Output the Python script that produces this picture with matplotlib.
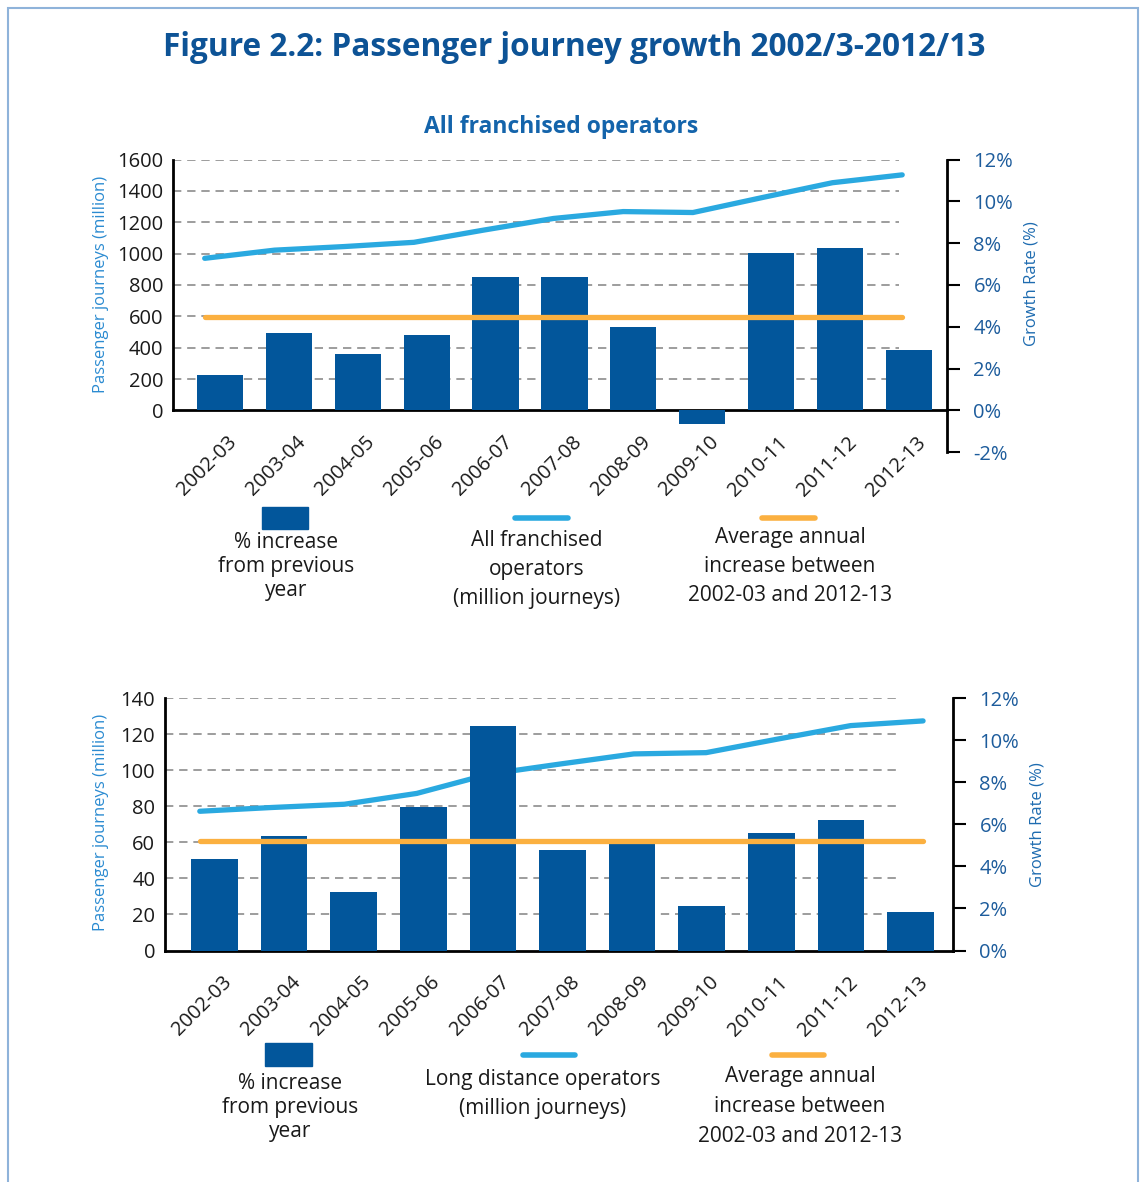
import numpy as np
import matplotlib
matplotlib.use("Agg")
from matplotlib import pyplot as plt
from matplotlib.patches import Rectangle
from matplotlib.lines import Line2D
from matplotlib.transforms import ScaledTranslation

plt.rcParams['font.family'] = ['Open Sans', 'DejaVu Sans']

# ---- data ----
years = ['2002-03', '2003-04', '2004-05', '2005-06', '2006-07', '2007-08',
         '2008-09', '2009-10', '2010-11', '2011-12', '2012-13']

# all franchised operators
franch_growth = [1.7, 3.7, 2.7, 3.6, 6.4, 6.4, 4.0, -0.65, 7.55, 7.75, 2.9]
franch_journeys = [970, 1022, 1045, 1072, 1150, 1224, 1268, 1262, 1358, 1452, 1502]
franch_avg = 4.48

# long distance operators
ld_growth = [4.35, 5.45, 2.8, 6.8, 10.65, 4.8, 5.2, 2.1, 5.6, 6.2, 1.85]
ld_journeys = [77.2, 79.3, 81.1, 87.1, 97.8, 103.5, 109.0, 109.7, 117.3, 124.7, 127.3]
ld_avg = 5.21

BAR = '#02569b'
LINE = '#2aa9e0'
ORANGE = '#fbb040'
GRID = '#8c8c8c'
TICKBLUE = '#1d5c9c'

W, H = 1141, 1182
fig = plt.figure(figsize=(W / 100, H / 100), dpi=100)


def fx(x):
    return x / W


def fy(y):
    return 1 - y / H


def panel(rect, xlim, left_max, right_min, left_ticks, growth, journeys,
          avg, line_span, grid_end):
    ax = fig.add_axes(rect)
    ax.set_xlim(*xlim)
    ratio = left_max / 12.0
    ax.set_ylim(right_min * ratio, left_max)
    axr = ax.twinx()
    axr.set_ylim(right_min, 12)

    x = np.arange(len(years))
    lx = np.linspace(line_span[0], line_span[1], len(years))

    # grid
    ax.hlines(left_ticks[1:], xlim[0], grid_end, colors=GRID, lw=1.2,
              linestyles=(0, (5, 3.5)), zorder=0)
    # passenger journeys line (sits under the bars)
    ax.plot(lx, journeys, color=LINE, lw=3.8, solid_capstyle='round',
            solid_joinstyle='round', zorder=2)
    # growth bars
    axr.bar(x, growth, width=0.67, color=BAR, zorder=2)
    axr.plot([line_span[0], line_span[1]], [avg, avg], color=ORANGE,
             lw=3.8, solid_capstyle='round', zorder=3)

    for s in ['top', 'right']:
        ax.spines[s].set_visible(False)
    ax.spines['left'].set_bounds(0, left_max)
    ax.spines['left'].set_linewidth(2)
    ax.spines['bottom'].set_position(('data', 0))
    ax.spines['bottom'].set_linewidth(2)
    for s in ['top', 'left', 'bottom']:
        axr.spines[s].set_visible(False)
    axr.spines['right'].set_linewidth(2)

    ax.set_yticks(left_ticks)
    ax.tick_params(axis='y', length=0, labelsize=14.5, labelcolor='#1a1a1a',
                   pad=7)
    ax.set_xticks(x)
    ax.set_xticklabels(years, fontsize=14.5, color='#1a1a1a')
    ax.tick_params(axis='x', length=0, pad=0)
    off = ScaledTranslation(0.14, -0.29, fig.dpi_scale_trans)
    for lbl in ax.get_xticklabels():
        lbl.set_rotation(45)
        lbl.set_rotation_mode('anchor')
        lbl.set_ha('right')
        lbl.set_va('center')
        lbl.set_transform(lbl.get_transform() + off)

    rt = np.arange(right_min, 13, 2)
    axr.set_yticks(rt)
    axr.set_yticklabels(['%d%%' % v for v in rt])
    axr.tick_params(axis='y', length=9, width=1.5, direction='out',
                    labelsize=14.5, labelcolor=TICKBLUE, pad=10)
    return ax, axr


# top panel
panel([fx(173), fy(452.3), fx(774), 292.8 / H], (-0.68, 10.55), 1600, -2,
      np.arange(0, 1601, 200), franch_growth, franch_journeys, franch_avg,
      (-0.22, 9.9), 9.85)

# bottom panel
panel([fx(165), fy(950.5), fx(788), 252.5 / H], (-0.71, 10.61), 140, 0,
      np.arange(0, 141, 20), ld_growth, ld_journeys, ld_avg,
      (-0.21, 10.18), 9.8)

# titles
fig.text(fx(574), fy(47), 'Figure 2.2: Passenger journey growth 2002/3-2012/13',
         ha='center', va='center', fontsize=22.8, fontweight='bold',
         color='#0d5396')
fig.text(fx(561), fy(127), 'All franchised operators', ha='center',
         va='center', fontsize=16.5, fontweight='bold', color='#1464ab')

# axis titles
for yc in (284, 822):
    fig.text(fx(101), fy(yc), 'Passenger journeys (million)', rotation=90,
             ha='center', va='center', fontsize=12, color='#2b8bd1')
fig.text(fx(1032), fy(284), 'Growth Rate (%)', rotation=90, ha='center',
         va='center', fontsize=12, color='#1d6bb0')
fig.text(fx(1037), fy(825), 'Growth Rate (%)', rotation=90, ha='center',
         va='center', fontsize=12, color='#1d6bb0')


# legends drawn by hand below each panel
def legend(sq, bl, ol, ly, texts):
    fig.patches.append(Rectangle((fx(sq[0]), fy(sq[3])), fx(sq[1] - sq[0]),
                                 (sq[3] - sq[2]) / H, color=BAR,
                                 transform=fig.transFigure))
    fig.lines.append(Line2D([fx(bl[0]), fx(bl[1])], [fy(ly), fy(ly)],
                            color=LINE, lw=4, solid_capstyle='round',
                            transform=fig.transFigure))
    fig.lines.append(Line2D([fx(ol[0]), fx(ol[1])], [fy(ly), fy(ly)],
                            color=ORANGE, lw=4, solid_capstyle='round',
                            transform=fig.transFigure))
    for (xc, yt, txt, sp) in texts:
        fig.text(fx(xc), fy(yt), txt, ha='center', va='top', fontsize=15,
                 color='#1a1a1a', linespacing=sp)


legend((262, 308, 507, 529), (515, 568), (762, 815), 518,
       [(286, 532, '% increase\nfrom previous\nyear', 1.2),
        (537, 530, 'All franchised\noperators\n(million journeys)', 1.5),
        (790, 527, 'Average annual\nincrease between\n2002-03 and 2012-13', 1.5)])
legend((265, 312, 1043, 1066), (523, 575), (772, 824), 1055,
       [(290, 1073, '% increase\nfrom previous\nyear', 1.18),
        (543, 1069, 'Long distance operators\n(million journeys)', 1.48),
        (800, 1066, 'Average annual\nincrease between\n2002-03 and 2012-13', 1.55)])

# frame around the figure
fig.patches.append(Rectangle((fx(8), fy(1200)), fx(1130), 1192 / H,
                             fill=False, edgecolor='#8fb3da', lw=1.5,
                             transform=fig.transFigure))

fig.savefig('out.png', dpi=100)
